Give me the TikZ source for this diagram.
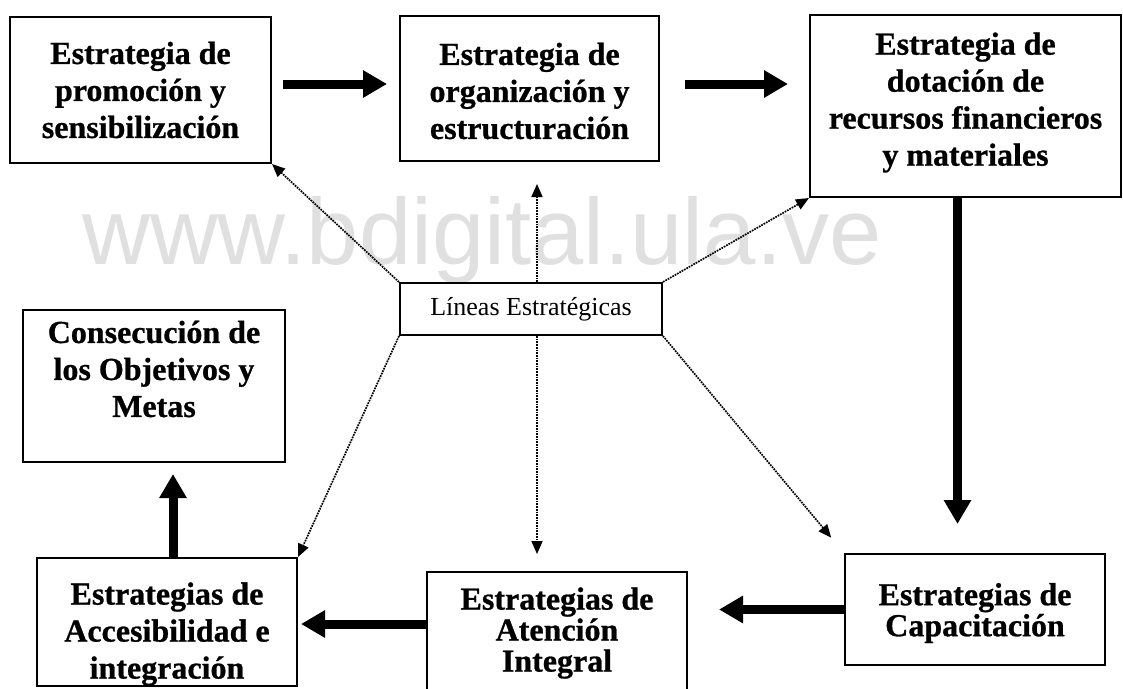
\documentclass[tikz,border=0pt]{standalone}
\usepackage{fontspec}
\setmainfont{Liberation Serif}[BoldFeatures={FakeBold=0.8}]
\setsansfont{Liberation Sans}
\usetikzlibrary{arrows.meta,calc}

\begin{document}
\begin{tikzpicture}[x=1pt,y=-1pt,
  caja/.style={draw, line width=2pt, inner sep=0pt},
  texto/.style={align=center, font=\fontsize{32}{37}\selectfont\bfseries},
  flecha/.style={line width=9pt, -{Triangle[length=24pt,width=26pt]}},
  punteada/.style={line width=1.7pt, densely dotted, -{Triangle[length=13pt,width=11pt]}}]
\path[use as bounding box, clip] (0,0) rectangle (1123,688);
\fill[white] (0,0) rectangle (1123,688);

% marca de agua
\node[text=black!12, font=\sffamily\fontsize{94}{94}\selectfont, anchor=base west, inner sep=0pt] (marca) at (82,264) {www.bdigital.ula.ve};

% cajas
\node[caja, minimum width=261, minimum height=146] (promo) at (140.5,90) {};
\node[caja, minimum width=259, minimum height=145] (organ) at (529.5,88.5) {};
\node[caja, minimum width=311, minimum height=182] (dotac) at (965.5,106) {};
\node[caja, minimum width=262, minimum height=52] (lineas) at (531,309) {};
\node[caja, minimum width=262, minimum height=152] (consec) at (154,386) {};
\node[caja, minimum width=260, minimum height=128] (acces) at (167,622) {};
\node[caja, minimum width=260, minimum height=128] (aten) at (557,636) {};
\node[caja, minimum width=260, minimum height=111] (capac) at (975,609.5) {};

% textos
\node[texto] (promo-t) at (140.5,90) {Estrategia de\\promoción y\\sensibilización};
\node[texto] (organ-t) at (529.5,91) {Estrategia de\\organización y\\estructuración};
\node[texto] (dotac-t) at (965.5,102.5) {Estrategia de\\dotación de\\recursos financieros\\y materiales};
\node[font=\fontsize{26}{30}\selectfont] (lineas-t) at (531,309) {Líneas Estratégicas};
\node[texto] (consec-t) at (154,369) {Consecución de\\los Objetivos y\\Metas};
\node[texto] (acces-t) at (167,634) {Estrategias de\\Accesibilidad e\\integración};
\node[texto, font=\fontsize{32}{31}\selectfont\bfseries] (aten-t) at (557,633) {Estrategias de\\Atención\\Integral};
\node[texto, font=\fontsize{32}{31}\selectfont\bfseries] (capac-t) at (975,613) {Estrategias de\\Capacitación};

% flechas gruesas
\draw[flecha] ($(promo.east)+(11,-6)$) -- ($(organ.west |- promo.east)+(-12,-6)$);
\draw[flecha] ($(organ.east)+(25,-4.5)$) -- ($(dotac.west |- organ.east)+(-21,-4.5)$);
\draw[flecha, shorten >=29pt] ([xshift=-8pt]dotac.south) -- ([xshift=-8pt]dotac.south |- capac.north);
\draw[flecha, shorten >=31pt] (capac.west) -- (capac.west -| aten.east);
\draw[flecha, shorten >=3pt] ([yshift=12pt]aten.west) -- ([yshift=12pt]aten.west -| acces.east);
\draw[flecha, shorten >=11pt] ([xshift=6pt]acces.north) -- ([xshift=6pt]acces.north |- consec.south);

% lineas punteadas
\draw[punteada] (lineas.north west) -- (promo.south east);
\draw[punteada, shorten >=22pt] ([xshift=6pt]lineas.north) -- ([xshift=6pt]lineas.north |- organ.south);
\draw[punteada] (lineas.north east) -- (dotac.south west);
\draw[punteada] (lineas.south west) -- (acces.north east);
\draw[punteada, shorten >=17pt] ([xshift=6pt]lineas.south) -- ([xshift=6pt]lineas.south |- aten.north);
\draw[punteada, shorten >=20pt] (lineas.south east) -- (capac.north west);
\end{tikzpicture}
\end{document}
